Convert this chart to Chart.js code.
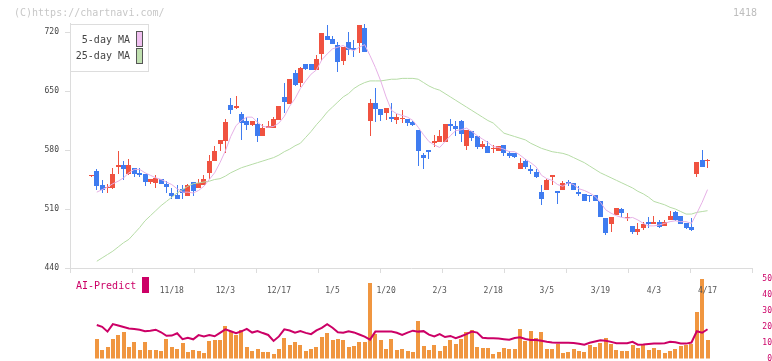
<!DOCTYPE html>
<html><head><meta charset="utf-8">
<script src="https://cdn.jsdelivr.net/npm/chart.js@4.4.1/dist/chart.umd.min.js"></script>
<style>
html,body{margin:0;padding:0;background:#fff;}
body{width:772px;height:361px;position:relative;overflow:hidden;font-family:"DejaVu Sans Mono",monospace;}
.abs{position:absolute;white-space:nowrap;}
#wrapMain{position:absolute;left:0;top:0;width:772px;height:300px;}
#wrapVol{position:absolute;left:0;top:268px;width:772px;height:110px;}
</style></head><body>
<div id="wrapVol"><canvas id="vol" width="772" height="110"></canvas></div>
<div id="wrapMain"><canvas id="main" width="772" height="300"></canvas></div>
<div class="abs" style="left:14px;top:6px;font-size:10px;line-height:13px;color:#c8c8c8">(C)https://chartnavi.com/</div>
<div class="abs" style="left:733px;top:6px;font-size:10px;line-height:13px;color:#bdbdbd">1418</div>
<div class="abs" style="left:70px;top:24px;width:79px;height:48px;box-sizing:border-box;border:1px solid #ddd;background:#fff"></div>
<div class="abs" style="left:0;width:130px;text-align:right;top:34px;font-size:10px;line-height:12px;color:#444">5-day MA</div>
<div class="abs" style="left:0;width:130px;text-align:right;top:50px;font-size:10px;line-height:12px;color:#444">25-day MA</div>
<div class="abs" style="left:136px;top:31px;width:7px;height:16px;box-sizing:border-box;border:1px solid #555;background:#f0c0f0"></div>
<div class="abs" style="left:136px;top:48px;width:7px;height:16px;box-sizing:border-box;border:1px solid #555;background:#c0e0b0"></div>
<div class="abs" style="left:76px;top:280px;font-size:10px;line-height:12px;color:#cc0066">AI-Predict</div>
<div class="abs" style="left:142px;top:277px;width:7px;height:16px;background:#cc0066"></div>
<script>
const dateLabels = ['11/18','12/3','12/17','1/5','1/20','2/3','2/18','3/5','3/19','4/3','4/17'];
const labelIdx = [15,25,35,45,55,65,75,85,95,105,115];
const priceTicks = [440,510,580,650,720];
const aiTicks = [0,10,20,30,40,50];

const open = [549,555,538,535,535,560,562,551,559,553, 552,542,541,546,540,529,527,534,525,542,
 535,538,553,567,587,591,633,630,623,614, 610,611,597,606,606,616,643,635,671,659,
 682,682,675,694,715,712,705,686,708,701, 707,725,615,636,629,624,619,616,617,617,
 613,604,574,580,588,589,590,611,608,614, 585,603,597,583,585,581,579,586,577,576,
 558,567,558,554,530,533,548,531,532,542, 541,530,528,527,527,519,499,492,503,510,
 499,490,483,487,495,492,495,490,497,506, 502,493,489,552,568,567];
const high = [549,558,545,540,559,579,567,569,559,559, 552,546,550,546,543,535,538,538,540,542,
 546,550,574,585,592,617,642,644,625,619, 614,618,611,614,619,632,660,664,675,678,
 682,682,693,719,728,715,708,702,720,711, 728,730,640,654,629,630,636,623,627,617,
 615,604,577,580,598,604,611,617,614,616, 604,603,597,591,591,586,585,586,579,576,
 571,569,562,557,538,546,550,531,543,544, 541,537,528,527,527,519,499,500,511,511,
 505,490,493,495,500,502,497,497,508,508, 502,493,499,566,580,569];
const low = [549,533,529,529,534,551,544,550,548,548, 537,540,535,540,529,522,522,522,525,525,
 535,538,546,567,579,576,623,629,592,604, 608,590,597,606,606,616,624,635,656,655,
 675,675,675,686,711,706,673,681,693,690, 695,696,597,613,614,616,613,611,612,608,
 608,561,558,569,583,589,590,603,597,590, 580,591,581,581,576,576,579,573,571,570,
 558,557,552,547,515,533,538,516,532,537, 533,525,519,518,519,500,479,483,503,500,
 496,480,479,485,487,492,487,490,497,496, 492,486,484,548,560,559];
const close = [549,537,533,536,551,562,557,562,552,550, 542,546,547,540,536,525,522,529,538,531,
 541,546,567,579,592,613,627,632,612,610, 614,597,606,608,617,632,637,664,657,677,
 676,675,688,719,711,706,684,702,699,699, 728,696,636,629,622,630,617,619,617,612,
 610,579,571,578,591,597,611,609,605,599, 604,594,583,587,576,582,585,576,573,572,
 565,560,555,548,522,544,550,529,541,540, 533,528,519,525,519,500,482,500,511,505,
 499,483,486,492,492,495,489,495,502,497, 492,487,485,566,560,567];
const ma5 = [null,530,533,536,540,543,547,553,557,557, 553,550,547,545,542,539,534,530,530,529,
 532,537,545,553,565,579,596,609,615,619, 619,613,608,607,608,612,620,632,641,653,
 662,670,675,687,694,700,702,704,700,698, 702,705,692,678,662,643,627,623,621,619,
 615,607,598,590,586,583,590,597,603,604, 606,602,597,593,589,584,583,581,578,578,
 574,569,565,560,550,546,544,539,537,541, 539,534,532,529,525,518,509,505,502,500,
 499,500,497,493,490,490,491,493,495,496, 495,495,493,505,518,533];
const ma25 = [null,448,452,456,460,465,470,474,481,488, 496,502,508,514,519,524,529,533,537,540,
 541,542,543,545,546,549,553,556,559,561, 563,565,567,569,571,574,578,581,585,588,
 595,602,610,617,625,631,637,643,647,653, 657,660,662,662,662,663,664,664,665,665,
 665,664,660,656,653,651,647,643,639,635, 631,627,623,619,615,612,606,600,598,596,
 594,592,588,585,582,580,578,577,576,574, 571,568,565,561,557,553,550,547,544,541,
 538,535,531,528,524,519,517,515,512,510, 507,504,504,506,507,508];
const volume = [null,12.2,5.3,7.2,12.2,14.7,16.8,7.2,10.5,5.5, 10.5,5.3,5.3,4.7,12.2,7.2,5.9,9.7,4.1,5.3,
 4.7,3.4,10.9,11.6,11.6,20.3,17.2,14.7,17.8,7.2, 4.7,5.9,4.1,4.1,2.8,5.9,12.8,8.4,10.5,8.4,
 4.7,5.9,7.2,13.4,15.9,11.6,12.2,11.6,7.2,7.8, 10.3,10.3,47.2,15.3,11.5,5.9,12.2,5.3,5.9,4.7,
 4.1,23.4,7.8,5.3,8.4,4.7,7.8,11.6,9.1,12.2, 16.6,17.8,7.2,6.6,6.6,2.8,4.1,6.6,5.9,5.9,
 18.4,10.9,17.2,12.8,16.6,5.9,5.9,9.1,3.4,4.1, 5.9,4.7,4.1,8.4,7.2,9.7,12.8,9.1,5.3,4.7,
 4.7,8.4,6.6,8.4,5.3,6.6,5.3,3.4,4.7,5.9, 7.8,8.4,9.1,28.9,49.7,11.6];
const aiPredict = [null,20.9,19.8,16.8,21.5,20.6,19.7,18.8,18.5,18.0, 17.1,17.3,18.0,16.4,14.2,14.3,15.8,12.1,13.0,12.0,
 14.6,13.8,14.6,13.9,16.0,18.2,17.0,15.8,17.0,18.5, 16.2,17.2,15.9,14.7,11.0,13.8,18.2,17.5,16.1,17.1,
 16.0,15.2,17.6,19.2,21.4,19.2,16.4,16.1,17.0,16.3, 15.0,13.7,11.8,16.8,16.8,16.8,16.8,16.1,14.7,16.2,
 17.4,16.8,17.1,14.9,13.8,15.3,13.4,14.1,12.7,13.9, 15.2,16.8,16.2,13.0,12.6,12.6,12.5,12.1,11.7,12.8,
 13.3,12.2,11.6,11.6,11.1,10.5,10.0,9.9,9.9,9.9, 9.7,9.2,8.6,9.8,10.6,11.4,11.1,10.4,9.6,9.5,
 9.5,10.4,8.6,8.8,9.1,9.3,9.4,9.6,10.4,10.2, 9.4,9.3,10.0,17.0,16.1,18.3];

const UP = '#f05240', DOWN = '#3f7cf0';
const FONT = 'DejaVu Sans Mono';
const idx = close.map((_, i) => i);
const candleColor = idx.map(i => close[i] >= open[i] ? UP : DOWN);
const xRange = {min: -4, max: 123.3};

// keep bars on the pixel grid (positions still come from the scales)
const snapBars = {
  id: 'snapBars',
  afterDatasetsUpdate(chart) {
    chart.data.datasets.forEach((ds, di) => {
      const meta = chart.getDatasetMeta(di);
      if (meta.type !== 'bar') return;
      meta.data.forEach(el => {
        const half = (Math.round(el.width) % 2) ? 0.5 : 0;
        el.x = Math.round(el.x - half) + half;
        const top = Math.round(Math.min(el.y, el.base));
        let bottom = Math.round(Math.max(el.y, el.base));
        if (bottom - top < 1) bottom = top + 1;
        el.y = top; el.base = bottom;
      });
    });
  }
};

new Chart(document.getElementById('main'), {
  type: 'bar',
  plugins: [snapBars],
  data: { datasets: [
    {type:'line', label:'5-day MA', data: idx.map(i => ({x:i, y:ma5[i]})), borderColor:'#e6b0e6', borderWidth:1, pointRadius:0, order:0},
    {type:'line', label:'25-day MA', data: idx.map(i => ({x:i, y:ma25[i]})), borderColor:'#b6dca6', borderWidth:1, pointRadius:0, order:1},
    {label:'body', data: idx.map(i => ({x:i, y:[Math.min(open[i],close[i]), Math.max(open[i],close[i])]})), backgroundColor: candleColor, barThickness:5, minBarLength:1, order:2},
    {label:'wick', data: idx.map(i => ({x:i, y:[low[i], high[i]]})), backgroundColor: candleColor, barThickness:1, order:3}
  ]},
  options: {
    responsive:false, animation:false, devicePixelRatio:1,
    layout:{padding:{left:0, right:20, top:23.6, bottom:0}},
    plugins:{legend:{display:false}, tooltip:{enabled:false}},
    datasets:{bar:{grouped:false, borderWidth:0, inflateAmount:0}},
    scales:{
      x:{type:'linear', position:'bottom', weight:1, min:xRange.min, max:xRange.max, offset:false,
        grid:{display:false, offset:false}, border:{display:true, color:'#dcdcdc', width:1},
        ticks:{padding:10, color:'#555', font:{family:FONT, size:8}, autoSkip:false, maxRotation:0,
          callback:(v) => { const k = labelIdx.indexOf(v); return k >= 0 ? dateLabels[k] : ''; }},
        afterBuildTicks:(s) => { s.ticks = labelIdx.map(v => ({value:v})); },
        afterFit:(s) => { s.height = 32; }},
      xt:{type:'linear', position:'bottom', weight:0, min:0, max:11, offset:false,
        grid:{display:true, drawOnChartArea:false, drawTicks:true, tickLength:5, color:'#dcdcdc', offset:false},
        border:{display:false}, ticks:{display:false, stepSize:1},
        afterFit:(s) => { s.height = 0; }},
      y:{type:'linear', position:'left', min:440, max:730,
        grid:{display:true, drawOnChartArea:false, drawTicks:true, tickLength:5, color:'#dcdcdc'},
        border:{display:true, color:'#dcdcdc', width:1},
        ticks:{padding:6, color:'#444', font:{family:FONT, size:8}},
        afterBuildTicks:(s) => { s.ticks = priceTicks.map(v => ({value:v})); },
        afterFit:(s) => { s.width = 70; }}
    }
  }
});

new Chart(document.getElementById('vol'), {
  type: 'bar',
  plugins: [snapBars],
  data: { datasets: [
    {type:'line', label:'AI-Predict', data: idx.map(i => ({x:i, y:aiPredict[i]})), borderColor:'#cc0066', borderWidth:2, pointRadius:0, order:0},
    {label:'volume', data: idx.map(i => ({x:i, y:volume[i]})), backgroundColor:'#f09640', barThickness:4, borderWidth:0, inflateAmount:0, order:1}
  ]},
  options: {
    responsive:false, animation:false, devicePixelRatio:1,
    layout:{padding:{left:70, right:0, top:10.5, bottom:19.5}},
    plugins:{legend:{display:false}, tooltip:{enabled:false}},
    scales:{
      x:{type:'linear', min:xRange.min, max:xRange.max, offset:false, display:false},
      y:{type:'linear', position:'right', min:0, max:50,
        grid:{display:false}, border:{display:false},
        ticks:{padding:0, crossAlign:'far', color:'#cc0066', font:{family:FONT, size:8}},
        afterBuildTicks:(s) => { s.ticks = aiTicks.map(v => ({value:v})); },
        afterFit:(s) => { s.width = 20; }}
    }
  }
});
</script>
</body></html>
